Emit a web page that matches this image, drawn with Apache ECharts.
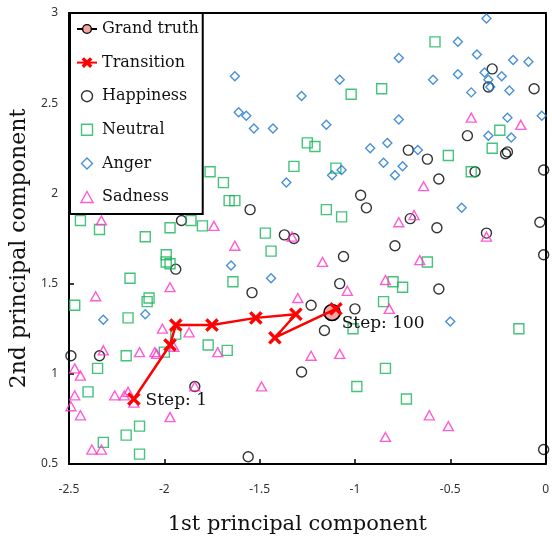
<!DOCTYPE html>
<html>
<head>
<meta charset="utf-8">
<script src="https://cdn.jsdelivr.net/npm/echarts@6/dist/echarts.min.js"></script>
<style>
  html, body { margin: 0; padding: 0; background: #fff; }
  #chart { width: 552px; height: 540px; }
</style>
</head>
<body>
<div id="chart"></div>
<script>
// Legend entries, in display order
const legendNames = ['Grand truth', 'Transition', 'Happiness', 'Neutral', 'Anger', 'Sadness'];

// Axis titles
const xAxisTitle = '1st principal component';
const yAxisTitle = '2nd principal component';

// Axis ranges / ticks
const xRange = [-2.5, 0];
const yRange = [0.5, 3];
const tickStep = 0.5;

// Emotion samples projected onto the first two principal components [pc1, pc2]
const happiness = [
  [-0.28, 2.69], [-0.30, 2.59], [-0.06, 2.58], [-0.41, 2.32], [-0.72, 2.24],
  [-0.62, 2.19], [-0.21, 2.22], [-0.20, 2.23], [-0.37, 2.12], [-0.01, 2.13],
  [-0.56, 2.08], [-0.71, 1.86], [-0.57, 1.81], [-0.03, 1.84], [-0.31, 1.78],
  [-0.79, 1.71], [-0.01, 1.66], [-0.56, 1.47], [-0.97, 1.99], [-0.94, 1.92],
  [-1.55, 1.91], [-1.37, 1.77], [-1.32, 1.75], [-1.06, 1.65], [-1.08, 1.50],
  [-1.54, 1.45], [-1.23, 1.38], [-1.00, 1.36], [-1.16, 1.24], [-1.28, 1.01],
  [-1.56, 0.54], [-1.91, 1.85], [-1.94, 1.58], [-2.49, 1.10], [-2.34, 1.10],
  [-1.84, 0.93], [-0.01, 0.58]
];

const neutral = [
  [-0.58, 2.84], [-1.02, 2.55], [-0.86, 2.58], [-1.25, 2.28], [-1.21, 2.26],
  [-1.32, 2.15], [-0.24, 2.35], [-0.28, 2.25], [-0.51, 2.21], [-0.39, 2.12],
  [-0.62, 1.62], [-0.80, 1.51], [-0.75, 1.48], [-0.85, 1.40], [-1.10, 2.14],
  [-1.69, 2.06], [-1.66, 1.96], [-1.63, 1.96], [-1.15, 1.91], [-1.07, 1.87],
  [-1.47, 1.78], [-1.44, 1.68], [-1.64, 1.51], [-1.76, 2.12], [-2.44, 1.85],
  [-2.34, 1.80], [-1.86, 1.85], [-1.80, 1.82], [-1.97, 1.81], [-2.10, 1.76],
  [-1.99, 1.66], [-1.99, 1.62], [-1.97, 1.61], [-2.18, 1.53], [-2.08, 1.42],
  [-2.09, 1.40], [-2.47, 1.38], [-2.19, 1.31], [-1.94, 1.22], [-1.77, 1.16],
  [-1.67, 1.13], [-2.20, 1.10], [-2.00, 1.12], [-2.35, 1.03], [-2.40, 0.90],
  [-2.13, 0.71], [-2.20, 0.66], [-2.32, 0.62], [-2.13, 0.555], [-1.01, 1.25],
  [-0.84, 1.03], [-0.99, 0.93], [-0.14, 1.25], [-0.73, 0.86]
];

const anger = [
  [-1.63, 2.65], [-1.08, 2.63], [-1.28, 2.54], [-1.61, 2.45], [-1.57, 2.43],
  [-1.53, 2.36], [-1.43, 2.36], [-1.15, 2.38], [-0.92, 2.25], [-0.83, 2.28],
  [-0.85, 2.17], [-0.31, 2.97], [-0.46, 2.84], [-0.36, 2.77], [-0.77, 2.75],
  [-0.17, 2.74], [-0.09, 2.73], [-0.59, 2.63], [-0.46, 2.66], [-0.32, 2.67],
  [-0.23, 2.65], [-0.30, 2.63], [-0.29, 2.59], [-0.39, 2.56], [-0.19, 2.57],
  [-0.02, 2.43], [-0.77, 2.41], [-0.20, 2.42], [-0.67, 2.24], [-0.30, 2.32],
  [-0.18, 2.31], [-0.75, 2.15], [-0.79, 2.10], [-0.44, 1.92], [-1.12, 2.10],
  [-1.07, 2.13], [-1.36, 2.06], [-1.65, 1.60], [-1.44, 1.53], [-2.32, 1.30],
  [-2.10, 1.33], [-0.50, 1.29]
];

const sadness = [
  [-0.39, 2.42], [-0.13, 2.38], [-0.64, 2.04], [-0.69, 1.88], [-0.77, 1.84],
  [-0.31, 1.76], [-0.66, 1.63], [-0.84, 1.52], [-0.82, 1.36], [-1.33, 1.76],
  [-1.63, 1.71], [-1.17, 1.62], [-1.04, 1.46], [-1.30, 1.42], [-2.33, 1.85],
  [-1.74, 1.82], [-1.97, 1.48], [-2.36, 1.43], [-2.01, 1.25], [-1.87, 1.23],
  [-2.32, 1.13], [-2.13, 1.12], [-2.05, 1.12], [-2.04, 1.11], [-1.95, 1.15],
  [-1.72, 1.12], [-2.47, 1.03], [-2.44, 0.99], [-2.47, 0.88], [-2.49, 0.82],
  [-2.26, 0.88], [-2.21, 0.88], [-2.19, 0.90], [-2.16, 0.84], [-2.44, 0.77],
  [-1.84, 0.93], [-1.97, 0.76], [-2.38, 0.58], [-2.33, 0.58], [-1.23, 1.10],
  [-1.08, 1.11], [-1.49, 0.93], [-0.84, 0.65], [-0.61, 0.77], [-0.51, 0.71]
];

// Estimated trajectory from the first to the last step
const transition = [
  [-2.16, 0.86], [-1.97, 1.16], [-1.94, 1.27], [-1.75, 1.27],
  [-1.52, 1.31], [-1.31, 1.33], [-1.42, 1.20], [-1.10, 1.36]
];
const stepLabels = ['Step: 1', 'Step: 100'];

// Target point
const grandTruth = [[-1.12, 1.34]];

const serifFont = 'DejaVu Serif';
const crossPath = 'path://M0,1.6L1.6,0L5,3.4L8.4,0L10,1.6L6.6,5L10,8.4L8.4,10L5,6.6L1.6,10L0,8.4L3.4,5Z';

// Square-proportioned legend icons for the hollow markers
const legendIcons = {
  'Happiness': 'circle',
  'Neutral': 'path://M0,0L10,0L10,10L0,10Z',
  'Anger': 'path://M5,0L10,5L5,10L0,5Z',
  'Sadness': 'path://M5,0L10,9L0,9Z'
};

function hollow(name, data, symbol, size, color) {
  return {
    name: name,
    type: 'scatter',
    data: data,
    symbol: symbol,
    symbolSize: size,
    itemStyle: { color: 'rgba(0,0,0,0)', borderColor: color, borderWidth: 1.4 },
    emphasis: { disabled: true },
    z: 2
  };
}

const transitionData = transition.map(function (p, i) {
  const item = { value: p };
  if (i === 0) {
    item.label = { show: true, formatter: stepLabels[0], position: 'right', distance: 5, offset: [0, 2] };
  } else if (i === transition.length - 1) {
    item.label = { show: true, formatter: stepLabels[1], position: 'right', distance: 0, offset: [-1, 15] };
  }
  return item;
});

const legendData = legendNames.map(function (n) {
  return legendIcons[n] ? { name: n, icon: legendIcons[n] } : { name: n };
});

const chart = echarts.init(document.getElementById('chart'), null, { renderer: 'canvas' });

const axisLineStyle = { color: '#000', width: 2 };
const tickLabel = { fontFamily: 'Noto Sans', fontSize: 12, color: '#333' };

chart.setOption({
  animation: false,
  backgroundColor: '#fff',
  grid: { left: 69, right: 6, top: 13, bottom: 72, containLabel: false },
  xAxis: [{
    type: 'value', min: xRange[0], max: xRange[1], interval: tickStep, position: 'bottom',
    name: xAxisTitle, nameLocation: 'middle', nameGap: 50,
    nameTextStyle: { fontFamily: serifFont, fontSize: 21, color: '#111', padding: [0, 20, 0, 0] },
    axisLine: { onZero: false, lineStyle: axisLineStyle },
    axisTick: { inside: true, length: 5, lineStyle: { color: '#000', width: 1.5 } },
    axisLabel: Object.assign({ margin: 20 }, tickLabel),
    splitLine: { show: false }
  }, {
    type: 'value', min: xRange[0], max: xRange[1], position: 'top',
    axisLine: { show: true, onZero: false, lineStyle: axisLineStyle },
    axisTick: { show: false }, axisLabel: { show: false }, splitLine: { show: false }
  }],
  yAxis: [{
    type: 'value', min: yRange[0], max: yRange[1], interval: tickStep, position: 'left',
    name: yAxisTitle, nameLocation: 'middle', nameGap: 36,
    nameTextStyle: { fontFamily: serifFont, fontSize: 22, color: '#111', padding: [0, 20, 0, 0] },
    axisLine: { show: true, onZero: false, lineStyle: axisLineStyle },
    axisTick: { show: true, inside: true, length: 5, lineStyle: { color: '#000', width: 1.5 } },
    axisLabel: Object.assign({ margin: 11 }, tickLabel),
    splitLine: { show: false }
  }, {
    type: 'value', min: yRange[0], max: yRange[1], position: 'right',
    axisLine: { show: true, onZero: false, lineStyle: axisLineStyle },
    axisTick: { show: false }, axisLabel: { show: false }, splitLine: { show: false }
  }],
  legend: {
    data: legendData,
    orient: 'vertical',
    left: 70, top: 13,
    padding: [6, 4, 7, 6],
    itemWidth: 20, itemHeight: 11, itemGap: 13.6,
    symbolKeepAspect: true,
    backgroundColor: '#fff',
    borderColor: '#000', borderWidth: 2, borderRadius: 0,
    textStyle: { fontFamily: serifFont, fontSize: 16, color: '#111', lineHeight: 20 },
    itemStyle: { borderWidth: 1.4 },
    selectedMode: false,
    z: 10
  },
  series: [
    hollow('Happiness', happiness, 'circle', 10, '#000000'),
    hollow('Neutral', neutral, 'rect', 10, '#16b45a'),
    hollow('Anger', anger, 'diamond', 9, '#1a74cc'),
    hollow('Sadness', sadness, 'triangle', [10, 9], '#ff33cc'),
    {
      name: 'Grand truth', type: 'line', data: grandTruth,
      symbol: 'circle', symbolSize: 16,
      itemStyle: { color: '#f5a3a3', borderColor: '#000', borderWidth: 1.6 },
      lineStyle: { color: '#000', width: 2 },
      emphasis: { disabled: true }, z: 3
    },
    {
      name: 'Transition', type: 'line', data: transitionData,
      symbol: crossPath, symbolSize: 13, showAllSymbol: true,
      itemStyle: { color: '#ff0000', borderColor: '#ff0000', borderWidth: 0.6 },
      lineStyle: { color: '#ff0000', width: 2.5 },
      label: { fontFamily: serifFont, fontSize: 17, color: '#111' },
      emphasis: { disabled: true }, z: 4
    }
  ]
});
</script>
</body>
</html>
